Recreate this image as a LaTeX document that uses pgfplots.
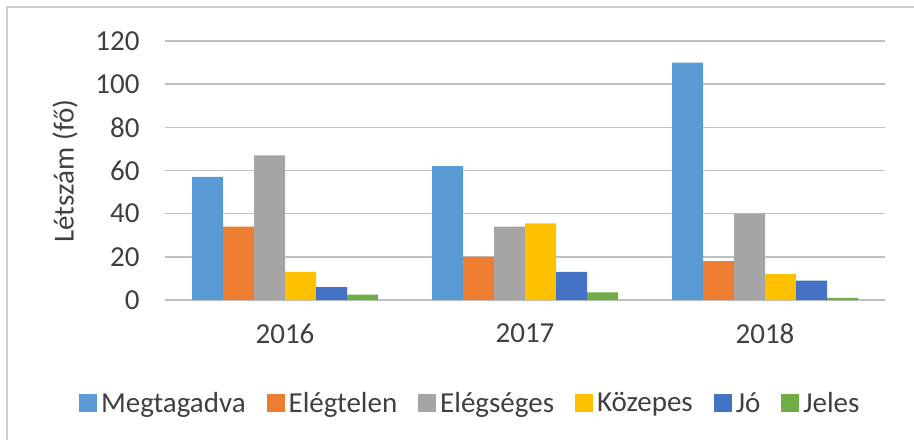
\documentclass[border=0pt]{standalone}
\usepackage{pgfplots}
\pgfplotsset{compat=1.18}
\usepackage{fontspec}
\setmainfont{Carlito}
\definecolor{cA}{HTML}{5B9BD5}
\definecolor{cB}{HTML}{ED7D31}
\definecolor{cC}{HTML}{A5A5A5}
\definecolor{cD}{HTML}{FFC000}
\definecolor{cE}{HTML}{4472C4}
\definecolor{cF}{HTML}{70AD47}
\definecolor{txt}{HTML}{404040}
\definecolor{grd}{HTML}{C0C0C0}
\begin{document}
\begin{tikzpicture}[x=1pt,y=1pt]
\path[use as bounding box] (0,0) rectangle (914,440);
\draw[color=grd!80, line width=1.2pt] (7,0) -- (7,433) -- (914,433);
\begin{axis}[
  at={(165pt,140pt)}, anchor=south west,
  scale only axis, width=720pt, height=259pt,
  xmin=-0.5, xmax=2.5, ymin=0, ymax=120,
  ytick={0,20,...,120},
  xtick=data, xticklabels={2016,2017,2018},
  ybar=0pt, bar width=31pt,
  axis line style={draw=none},
  major tick length=0pt,
  ymajorgrids, grid style={color=grd, line width=1.4pt},
  /pgf/number format/assume math mode=true,
  tick label style={font=\fontsize{29}{33}\selectfont, color=txt},
  yticklabel style={anchor=east, xshift=-22pt},
  xticklabel style={anchor=north, yshift=-20pt},
  legend columns=-1,
  legend style={draw=none, fill=none, at={(axis description cs:0.424,-0.398)}, anchor=center,
    font=\fontsize{29}{33}\selectfont, text=txt,
    /tikz/every odd column/.append style={column sep=2pt},
    /tikz/every even column/.append style={column sep=19pt}},
  legend image code/.code={\fill[#1] (0pt,-9pt) rectangle (18pt,9pt);},
  every axis plot/.append style={draw=none},
]
\addplot[fill=cA] coordinates {(0,57) (1,62) (2,110)};
\addplot[fill=cB] coordinates {(0,34) (1,20) (2,18)};
\addplot[fill=cC] coordinates {(0,67) (1,34) (2,40)};
\addplot[fill=cD] coordinates {(0,13) (1,35.5) (2,12)};
\addplot[fill=cE] coordinates {(0,6) (1,13) (2,9)};
\addplot[fill=cF] coordinates {(0,2.5) (1,3.5) (2,1)};
\legend{Megtagadva,Elégtelen,Elégséges,Közepes,Jó,Jeles}
\end{axis}
\node[rotate=90, text=txt, font=\fontsize{29}{33}\selectfont] at (65,269) {Létszám (fő)};
\end{tikzpicture}
\end{document}
